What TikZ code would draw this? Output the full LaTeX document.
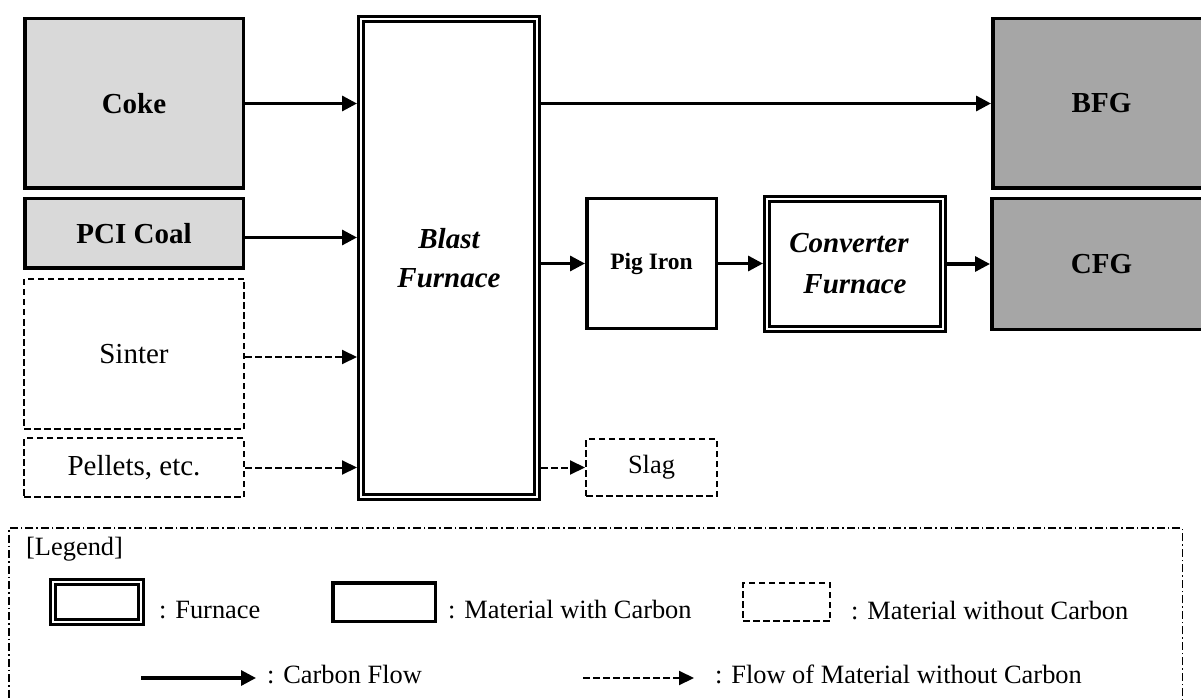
\documentclass[tikz,border=0pt]{standalone}
\usepackage{fontspec}
\setmainfont{Liberation Serif}
\usetikzlibrary{arrows.meta}
\definecolor{lightfill}{HTML}{D9D9D9}
\definecolor{darkfill}{HTML}{A6A6A6}
\tikzset{
  withc/.style={draw, line width=3.5pt, inner sep=0pt},
  withoutc/.style={draw, line width=2pt, dash pattern=on 6.5pt off 3.5pt, inner sep=0pt},
  furnace/.style={draw, line width=2.6pt, double, double distance=2.4pt, outer sep=3.8pt, inner sep=0pt},
  bigtxt/.style={font=\fontsize{29}{39}\selectfont},
  midtxt/.style={font=\fontsize{26.4}{32}\selectfont},
  carbonflow/.style={line width=3.2pt, -{Triangle[length=15pt,width=15pt]}},
  plainflow/.style={line width=2pt, dash pattern=on 6.5pt off 3.5pt, -{Triangle[length=15pt,width=14pt]}},
  legendframe/.style={draw, line width=1.5pt, dash pattern=on 8pt off 3pt on 1.5pt off 3pt, inner sep=0pt},
  legtext/.style={midtxt, anchor=base west, inner sep=0pt},
}
\begin{document}
\begin{tikzpicture}[x=1pt, y=-1pt]
\useasboundingbox (0,0) rectangle (1201,700);

% main boxes
\node[withc, fill=lightfill, minimum width=218.5pt, minimum height=169.5pt, bigtxt] (coke) at (134,103.5) {\bfseries Coke};
\node[withc, fill=lightfill, minimum width=218.5pt, minimum height=69.5pt, bigtxt] (pci) at (134,233.5) {\bfseries PCI Coal};
\node[withoutc, minimum width=220pt, minimum height=150pt, bigtxt] (sinter) at (134,354) {Sinter};
\node[withoutc, minimum width=220pt, minimum height=59pt, bigtxt] (pellets) at (134,467.5) {Pellets, etc.};

\node[furnace, minimum width=176.4pt, minimum height=478.4pt, bigtxt, align=center] (blast) at (449,258) {\bfseries\itshape Blast\\\bfseries\itshape Furnace};

\node[withc, minimum width=129.5pt, minimum height=129.5pt, font=\fontsize{23.5}{28}\selectfont\bfseries] (pig) at (651.5,263.5) {Pig Iron};
\node[withoutc, minimum width=131pt, minimum height=57pt, midtxt] (slag) at (651.5,467.5) {Slag};

\node[furnace, minimum width=176.4pt, minimum height=130.4pt, font=\fontsize{29}{41}\selectfont, align=center] (conv) at (855,264) {\bfseries\itshape Converter\kern12pt\\\bfseries\itshape Furnace};

\node[withc, fill=darkfill, minimum width=217.5pt, minimum height=169.5pt, bigtxt] (bfg) at (1101.5,103.5) {\bfseries BFG};
\node[withc, fill=darkfill, minimum width=219.5pt, minimum height=130.5pt, bigtxt] (cfg) at (1101.5,264) {\bfseries CFG};

% flows
\draw[carbonflow] (coke.east) -- (coke.east -| blast.west);
\draw[carbonflow] ([yshift=-4pt]pci.east) -- ([yshift=-4pt]pci.east -| blast.west);
\draw[plainflow] ([yshift=-3pt]sinter.east) -- ([yshift=-3pt]sinter.east -| blast.west);
\draw[plainflow] (pellets.east) -- (pellets.east -| blast.west);
\draw[carbonflow] (bfg.west -| blast.east) -- (bfg.west);
\draw[carbonflow] (pig.west -| blast.east) -- (pig.west);
\draw[plainflow] (slag.west -| blast.east) -- (slag.west);
\draw[carbonflow] (pig.east) -- (pig.east -| conv.west);
\draw[carbonflow] (conv.east) -- (conv.east -| cfg.west);

% legend
\node[legendframe, anchor=north west, outer sep=0.75pt, minimum width=1173.1pt, minimum height=220pt] (legend) at (8.4,527) {};
\node[legtext] (legtitle) at (26,555) {[Legend]};
\node[furnace, minimum width=88.4pt, minimum height=40.4pt] (legfur) at (97,602) {};
\node[legtext] (legfurt) at (159,618) {: Furnace};
\node[withc, minimum width=102.5pt, minimum height=38.5pt] (legwith) at (384,602) {};
\node[legtext] (legwitht) at (448,618) {: Material with Carbon};
\node[withoutc, minimum width=87pt, minimum height=38pt] (legwo) at (786.5,602) {};
\node[legtext] (legwot) at (851,619) {: Material without Carbon};
\coordinate (lca) at (141,678);
\coordinate (lcb) at (256,678);
\draw[carbonflow] (lca) -- (lcb);
\node[legtext] (lcft) at (267,683) {: Carbon Flow};
\coordinate (lpa) at (583,678);
\coordinate (lpb) at (694,678);
\draw[plainflow] (lpa) -- (lpb);
\node[legtext] (lpft) at (715,683) {: Flow of Material without Carbon};
\end{tikzpicture}
\end{document}
